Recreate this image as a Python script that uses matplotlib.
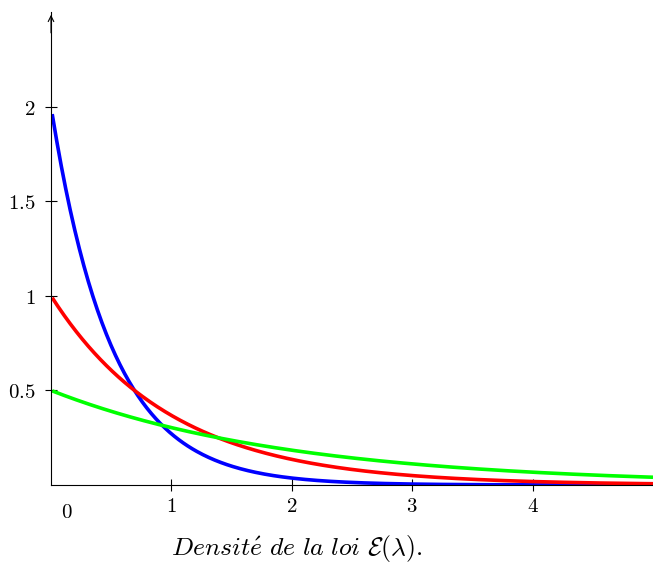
import numpy as np
import matplotlib
matplotlib.use('Agg')
import matplotlib.pyplot as plt

plt.rcParams['mathtext.fontset'] = 'cm'

# parametres lambda des trois lois exponentielles
lambdas = [2, 1, 0.5]
colors = ['#0000ff', '#ff0000', '#00ff00']
x_start, x_end = 0.01, 5.0

xticks = [1, 2, 3, 4]
yticks = [0.5, 1, 1.5, 2]
ytick_labels = ['0.5', '1', '1.5', '2']

fig = plt.figure(figsize=(6.53, 5.66), dpi=100)
ax = fig.add_axes([51/653, 81/566, 602/653, 473/566])

x = np.linspace(x_start, x_end, 400)
for lam, c in zip(lambdas, colors):
    ax.plot(x, lam * np.exp(-lam * x), color=c, lw=2.6, solid_capstyle='butt')

ax.set_xlim(0, 5)
ax.set_ylim(0, 2.5)
for s in ['top', 'right']:
    ax.spines[s].set_visible(False)
ax.spines['left'].set_linewidth(0.8)
ax.spines['bottom'].set_linewidth(0.8)

ax.set_xticks(xticks)
ax.set_xticklabels(['$%d$' % t for t in xticks], fontsize=15)
ax.set_yticks(yticks)
ax.set_yticklabels(['$%s$' % t for t in ytick_labels], fontsize=15)
ax.tick_params(direction='inout', length=8, width=0.8)
ax.tick_params(axis='x', pad=4)
ax.tick_params(axis='y', pad=7)

ax.annotate('', xy=(0, 1.0), xytext=(0, 0.95), xycoords='axes fraction',
            arrowprops=dict(arrowstyle='->', lw=0.8, color='black'),
            annotation_clip=False)

ax.text(0.13, -0.145, '$0$', fontsize=15, ha='center', va='center',
        transform=ax.transData, clip_on=False)

fig.text(297/653, 17/566, r'$\mathit{Densit\acute{e}\ de\ la\ loi}\ \mathcal{E}(\lambda).$',
         fontsize=18.5, ha='center', va='center')

fig.savefig('out.png', dpi=100)
